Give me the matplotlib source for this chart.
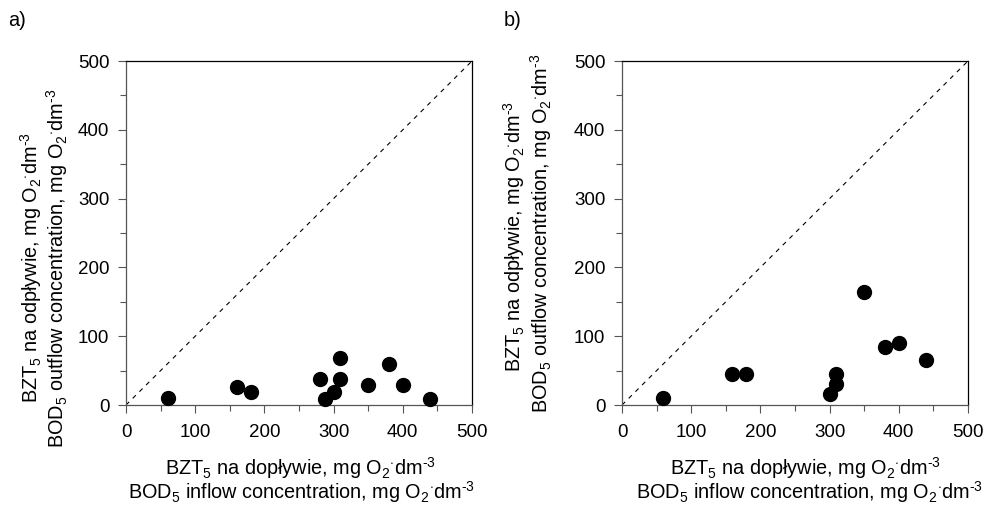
import matplotlib
matplotlib.use("Agg")
import matplotlib.pyplot as plt
from matplotlib.ticker import MultipleLocator

plt.rcParams['font.family'] = ['Liberation Sans', 'DejaVu Sans']
plt.rcParams['mathtext.fontset'] = 'custom'
plt.rcParams['mathtext.rm'] = 'Liberation Sans'
plt.rcParams['mathtext.it'] = 'Liberation Sans'
plt.rcParams['mathtext.bf'] = 'Liberation Sans'

# Panel a) data
a_inflow = [60, 160, 180, 280, 287, 300, 309, 309, 350, 380, 400, 440]
a_outflow = [10, 26, 19, 38, 9, 19, 69, 38, 29, 59, 29, 9]
# Panel b) data
b_inflow = [59, 159, 179, 300, 309, 309, 349, 380, 400, 440]
b_outflow = [10, 45, 45, 16, 45, 30, 164, 85, 90, 65]

panel_labels = ["a)", "b)"]
ticks = [0, 100, 200, 300, 400, 500]

sup = "$^{\u2010" + "3}$"
xl1 = r"BZT$_5$ na dopływie, mg O$_2$$^{\cdot}$dm" + sup
xl2 = r"BOD$_5$ inflow concentration, mg O$_2$$^{\cdot}$dm" + sup
yl1 = r"BZT$_5$ na odpływie, mg O$_2$$^{\cdot}$dm" + sup
yl2 = r"BOD$_5$ outflow concentration, mg O$_2$$^{\cdot}$dm" + sup

W, H = 988, 513
fig = plt.figure(figsize=(W / 100, H / 100), dpi=100)

def fx(px):
    return px / W

def fy(py):
    return 1 - py / H

axes_px = [(126, 61, 472, 405), (622, 61, 968, 405)]
datasets = [(a_inflow, a_outflow), (b_inflow, b_outflow)]
fs_tick = 13.5
fs_lab = 14.3

ylab_pos = [((31, 268), (57, 268)), ((514, 237), (541, 233))]
xlab_pos = [((300, 468), (302, 492)), ((805, 468), (810, 492))]
plab_pos = [(8, 20), (504, 20)]

for i, ((l, t, r, b), (xs, ys)) in enumerate(zip(axes_px, datasets)):
    ax = fig.add_axes([fx(l), fy(b), fx(r - l), (b - t) / H])
    ax.plot([0, 500], [0, 500], ls=(0, (4, 4.5)), color='black', lw=0.8)
    ax.scatter(xs, ys, s=100, color='black', zorder=3, clip_on=False)
    ax.set_xlim(0, 500)
    ax.set_ylim(0, 500)
    ax.set_xticks(ticks)
    ax.set_yticks(ticks)
    ax.xaxis.set_minor_locator(MultipleLocator(50))
    ax.yaxis.set_minor_locator(MultipleLocator(50))
    ax.tick_params(which='major', direction='out', length=6, width=0.8,
                   labelsize=fs_tick, pad=6, color='#555555')
    ax.tick_params(which='minor', direction='out', length=4, width=0.8,
                   color='#555555')
    ax.tick_params(axis='x', pad=8)
    for s in ['left', 'bottom']:
        ax.spines[s].set_color('#555555')
        ax.spines[s].set_linewidth(0.9)
    for s in ['top', 'right']:
        ax.spines[s].set_color('black')
        ax.spines[s].set_linewidth(0.9)

    (y1x, y1y), (y2x, y2y) = ylab_pos[i]
    fig.text(fx(y1x), fy(y1y), yl1, rotation=90, ha='center', va='center', fontsize=fs_lab)
    fig.text(fx(y2x), fy(y2y), yl2, rotation=90, ha='center', va='center', fontsize=fs_lab)
    (x1x, x1y), (x2x, x2y) = xlab_pos[i]
    fig.text(fx(x1x), fy(x1y), xl1, ha='center', va='center', fontsize=fs_lab)
    fig.text(fx(x2x), fy(x2y), xl2, ha='center', va='center', fontsize=fs_lab)
    px, py = plab_pos[i]
    fig.text(fx(px), fy(py), panel_labels[i], ha='left', va='center', fontsize=fs_lab)

fig.savefig("out.png", dpi=100)
